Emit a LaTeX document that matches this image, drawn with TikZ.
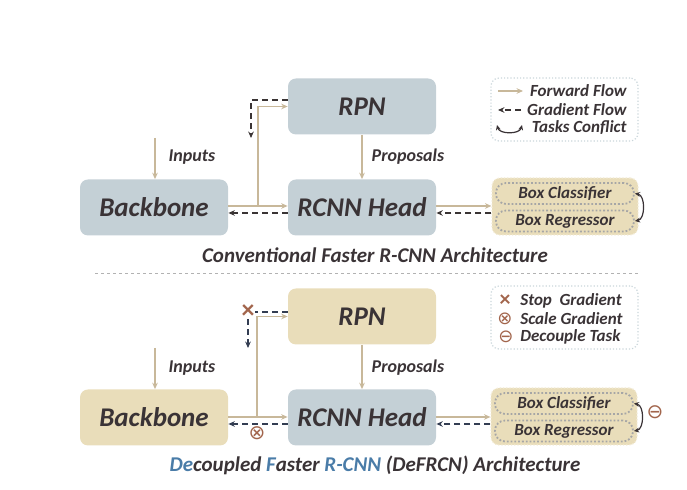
\documentclass[tikz,border=0pt]{standalone}
\usepackage{fontspec}
\setmainfont{Carlito}
\newfontfamily\symfont{DejaVu Sans}
\usetikzlibrary{arrows.meta}
\definecolor{slate}{HTML}{C4D0D6}
\definecolor{sand}{HTML}{E9DDBA}
\definecolor{ink}{HTML}{3A3336}
\definecolor{fwd}{HTML}{C8B89A}
\definecolor{grad}{HTML}{3A3434}
\definecolor{gradb}{HTML}{333D52}
\definecolor{rust}{HTML}{A2654C}
\definecolor{deblue}{HTML}{4A7CA8}
\definecolor{rim}{HTML}{C9D5DA}
\tikzset{
blk/.style={
  rounded corners=4pt,minimum width=74pt,minimum height=28pt,
  text=ink,font=\fontsize{13.5}{15}\selectfont\bfseries\itshape},
grp/.style={
  rounded corners=4pt,fill=sand,draw=sand!60!white,densely dotted,
  line width=0.6pt,minimum width=73pt,minimum height=28.5pt},
pill/.style={
  rounded corners=5pt,fill=sand,draw=gray!70,densely dotted,line width=0.9pt,
  minimum width=69pt,minimum height=10.5pt,inner sep=0pt,
  text=ink,font=\fontsize{8.5}{9}\selectfont\bfseries\itshape},
legbox/.style={
  rounded corners=4pt,draw=rim,densely dotted,line width=0.6pt,
  minimum width=73.5pt,minimum height=31.5pt},
lbl/.style={text=ink,font=\fontsize{9}{10}\selectfont\bfseries\itshape},
legtxt/.style={text=ink,font=\fontsize{8.5}{9}\selectfont\bfseries\itshape,inner sep=0pt},
ttl/.style={text=ink,font=\fontsize{10.5}{11}\selectfont\bfseries\itshape},
sym/.style={text=rust,font=\symfont\fontsize{10}{10}\selectfont,inner sep=0pt},
cross/.style={text=rust,font=\fontsize{13}{13}\selectfont\bfseries,inner sep=0pt},
fwdarr/.style={draw=fwd,line width=0.8pt,-{Stealth[length=3.2pt,width=2.8pt]}},
gradarr/.style={draw=#1,line width=0.8pt,dash pattern=on 3pt off 2pt,
  -{Stealth[length=3.2pt,width=2.8pt]}},
gradarr/.default=grad,
conflict/.style={draw=ink,line width=0.6pt,
  {Stealth[length=2.6pt,width=2.4pt]}-{Stealth[length=2.6pt,width=2.4pt]}}}

\begin{document}
\begin{tikzpicture}[x=0.5pt,y=-0.5pt]
\useasboundingbox (0,0) rectangle (687,490);

% conventional faster r-cnn
\node[blk,fill=slate] (rpnA) at (362,106.5) {RPN};
\node[blk,fill=slate] (bbA) at (154,207.5) {Backbone};
\node[blk,fill=slate] (headA) at (362,207.5) {RCNN Head};
\node[grp] (boxA) at (565,206.5) {};
\node[pill] (clsA) at (565,193.5) {Box Classifier};
\node[pill] (regA) at (565,221) {Box Regressor};
\coordinate (inA) at (155,138);
\coordinate (splitA) at (258,206);
\coordinate (dropA) at (251,138);
\draw[fwdarr] (inA) -- (inA |- bbA.north);
\node[lbl] (inputsA) at (192,157) {Inputs};
\draw[fwdarr] ([yshift=0.75pt]bbA.east) -- ([yshift=0.75pt]headA.west);
\draw[fwdarr] (splitA) |- (rpnA.west);
\draw[gradarr] ([yshift=-2.75pt]headA.west) -- ([yshift=-2.75pt]bbA.east);
\draw[gradarr] ([yshift=3.25pt]rpnA.west) -| (dropA);
\draw[fwdarr] (rpnA) -- (headA);
\node[lbl] (propA) at (408,157) {Proposals};
\draw[fwdarr] ([yshift=0.75pt]headA.east) -- ([yshift=0.75pt]headA.east -| boxA.west);
\draw[gradarr] ([yshift=-2.75pt]headA.east -| boxA.west) -- ([yshift=-2.75pt]headA.east);
\draw[conflict] (clsA.east) to[bend left=80] (regA.east);
\node[ttl] (ttlA) at (375,255) {Conventional Faster R-CNN Architecture};
% legend
\node[legbox] (legA) at (564.5,109.5) {};
\draw[fwdarr] (498,91) -- (523,91);
\node[legtxt,anchor=east] (fwdA) at (627,91) {Forward Flow};
\draw[gradarr] (521,110) -- (498,110);
\node[legtxt,anchor=east] (gradA) at (627,110) {Gradient Flow};
\draw[conflict] (497,125) to[bend right=75] (522,125);
\node[legtxt,anchor=east] (taskA) at (627,128) {Tasks Conflict};

\draw[gray!60,line width=0.5pt,dash pattern=on 1.5pt off 1.5pt] (95,274) -- (640,274);

% decoupled faster r-cnn
\node[blk,fill=sand] (rpnB) at (362,316.5) {RPN};
\node[blk,fill=sand] (bbB) at (154,417.5) {Backbone};
\node[blk,fill=slate] (headB) at (362,417.5) {RCNN Head};
\node[grp] (boxB) at (564,416.5) {};
\node[pill] (clsB) at (564,403.5) {Box Classifier};
\node[pill] (regB) at (564,431) {Box Regressor};
\coordinate (inB) at (155,348);
\coordinate (splitB) at (257,417);
\coordinate (stopB) at (248,312);
\coordinate (dropB) at (248,348);
\draw[fwdarr] (inB) -- (inB |- bbB.north);
\node[lbl] (inputsB) at (192,368) {Inputs};
\draw[fwdarr] ([yshift=0.25pt]bbB.east) -- ([yshift=0.25pt]headB.west);
\draw[fwdarr] (splitB) |- (rpnB.west);
\draw[gradarr=gradb] ([yshift=-3.25pt]headB.west) -- ([yshift=-3.25pt]bbB.east);
\node[sym] (scaleB) at (257,433) {⊗};
\draw[gradarr=gradb,-] ([yshift=2.25pt]rpnB.west) -- ([xshift=3.5pt]stopB);
\node[cross] (xB) at (stopB) {×};
\draw[gradarr=gradb] ([yshift=-3.5pt]stopB) -- (dropB);
\draw[fwdarr] (rpnB) -- (headB);
\node[lbl] (propB) at (408,368) {Proposals};
\draw[fwdarr] ([yshift=0.25pt]headB.east) -- ([yshift=0.25pt]headB.east -| boxB.west);
\draw[gradarr=gradb] ([yshift=-3.25pt]headB.east -| boxB.west) -- ([yshift=-3.25pt]headB.east);
\draw[conflict] (clsB.east) to[bend left=80] (regB.east);
\node[sym] (decB) at (655,412) {⊖};
\node[ttl] (ttlB) at (375,465) {\textcolor{deblue}{De}coupled \textcolor{deblue}{F}aster
  \textcolor{deblue}{R-CNN} (DeFRCN) Architecture};
% legend
\node[legbox] (legB) at (564.5,317.5) {};
\node[cross,font=\fontsize{11}{11}\selectfont\bfseries] (stopsym) at (505,301) {×};
\node[legtxt,anchor=west] (stoptxt) at (520,301) {Stop~~Gradient};
\node[sym,font=\symfont\fontsize{9}{9}\selectfont] (scalesym) at (505,319) {⊗};
\node[legtxt,anchor=west] (scaletxt) at (520,319) {Scale Gradient};
\node[sym,font=\symfont\fontsize{9}{9}\selectfont] (decsym) at (506,337) {⊖};
\node[legtxt,anchor=west] (dectxt) at (520,337) {Decouple Task};
\end{tikzpicture}
\end{document}
